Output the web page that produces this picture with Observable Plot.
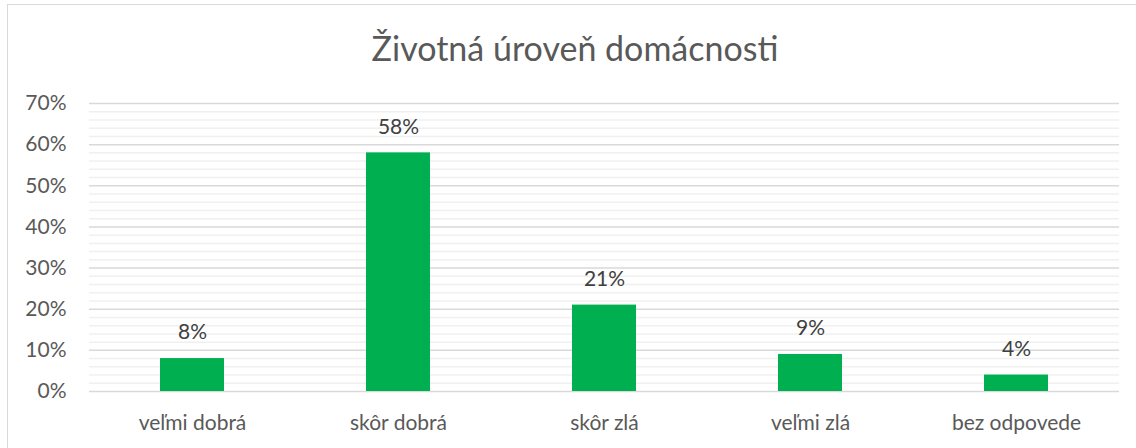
<!DOCTYPE html>
<html>
<head>
<meta charset="utf-8">
<script src="https://cdn.jsdelivr.net/npm/d3@7"></script>
<script src="https://cdn.jsdelivr.net/npm/@observablehq/plot@0.6"></script>
<style>
  html, body { margin: 0; padding: 0; background: #fff; }
  #wrap { position: relative; width: 1136px; height: 448px; overflow: hidden; }
  #frame { position: absolute; left: 7px; top: 4px; width: 1140px; height: 460px; border: 1.5px solid #d9d9d9; box-sizing: border-box; }
  #title { position: absolute; left: 0; top: 0; width: 1150px; height: 70px; text-align: center;
           font-family: Lato, "Open Sans", sans-serif; font-size: 34px; color: #595959; line-height: 96px; }
  #chart { position: absolute; left: 0; top: 70px; }
</style>
</head>
<body>
<div id="wrap">
  <div id="frame"></div>
  <div id="title">Životná úroveň domácnosti</div>
  <div id="chart"></div>
</div>
<script>
const categories = ["veľmi dobrá", "skôr dobrá", "skôr zlá", "veľmi zlá", "bez odpovede"];
const values = [0.08, 0.58, 0.21, 0.09, 0.04];
const labels = ["8%", "58%", "21%", "9%", "4%"];
const majorTicks = [0, 0.1, 0.2, 0.3, 0.4, 0.5, 0.6, 0.7];
const minorTicks = [0.02,0.04,0.06,0.08,0.12,0.14,0.16,0.18,0.22,0.24,0.26,0.28,0.32,0.34,0.36,0.38,0.42,0.44,0.46,0.48,0.52,0.54,0.56,0.58,0.62,0.64,0.66,0.68];

const data = categories.map((c, i) => ({cat: c, value: values[i], label: labels[i]}));

const chart = Plot.plot({
  width: 1136,
  height: 378,
  marginTop: 33,
  marginBottom: 57,
  marginLeft: 89,
  marginRight: 17,
  style: {fontFamily: "Lato, 'Open Sans', sans-serif", fontSize: "21px", color: "#595959", background: "transparent"},
  x: {domain: categories, paddingInner: 0.69, paddingOuter: 0.345, label: null, tickSize: 0, tickPadding: 24},
  y: {domain: [0, 0.7], ticks: majorTicks, tickFormat: d => Math.round(d * 100) + "%", label: null, tickSize: 0, tickPadding: 23},
  marks: [
    Plot.ruleY(minorTicks, {stroke: "#f0f0f0", strokeWidth: 1.5}),
    Plot.ruleY(majorTicks, {stroke: "#d9d9d9", strokeWidth: 1.5}),
    Plot.barY(data, {x: "cat", y: "value", fill: "#00b050"}),
    Plot.text(data, {x: "cat", y: "value", text: "label", dy: -26, fill: "#404040", fontSize: 21})
  ]
});
document.getElementById("chart").append(chart);
</script>
</body>
</html>
